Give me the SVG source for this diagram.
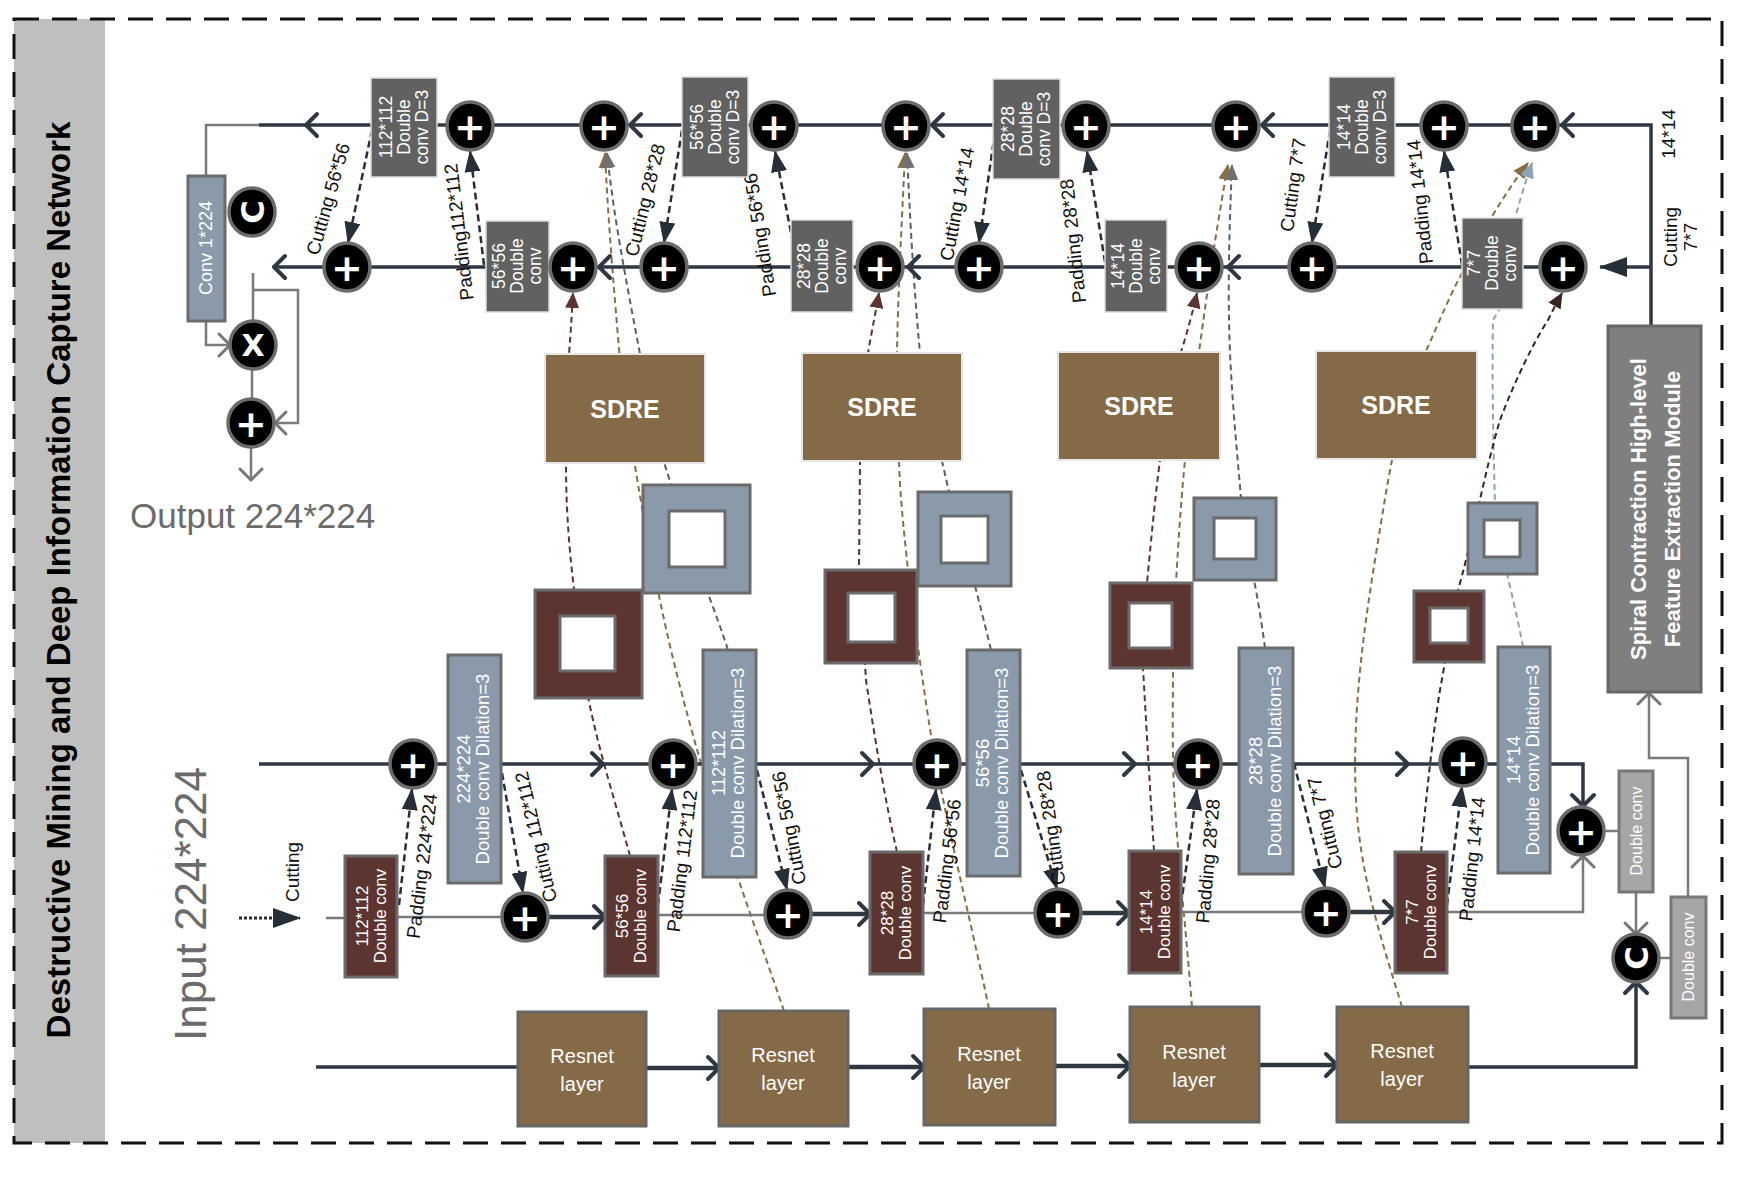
<svg xmlns="http://www.w3.org/2000/svg" width="1761" height="1178" viewBox="0 0 1761 1178">
<style>
text{font-family:"Liberation Sans",Arial,sans-serif}
.w{fill:#fff;text-anchor:middle}
.lab{fill:#111;font-size:19px;text-anchor:middle}
.op ellipse{fill:#000;stroke:#6b6b6b;stroke-width:3.5}
.op text{fill:#fff;font-family:"DejaVu Sans",sans-serif;font-weight:bold;text-anchor:middle}
.op .p{font-size:38px}
.bA rect{fill:#616161;stroke:#dcdcdc;stroke-width:1.5}
.bA text{font-size:17.5px}
.bl rect{fill:#8a9aab;stroke:#6b6b6b;stroke-width:3}
.bl text{font-size:18.5px}
.br rect{fill:#5c3530;stroke:#6b6b6b;stroke-width:3}
.br text{font-size:17px}
.sd rect{fill:#856a48;stroke:#e6e6e6;stroke-width:2}
.sd text{font-size:25px;font-weight:bold}
.rs rect{fill:#856a48;stroke:#666;stroke-width:3}
.rs text{font-size:20px}
.gy rect{fill:#a6a6a6;stroke:#777;stroke-width:3}
.gy text{font-size:16px}
.o1{fill:#5c3530;stroke:#6b6b6b;stroke-width:3}
.o2{fill:#8a9aab;stroke:#6b6b6b;stroke-width:3}
.in{fill:#fff;stroke:#6b6b6b;stroke-width:3}
.ln{fill:none;stroke:#2e3742;stroke-width:3.5}
.lg{fill:none;stroke:#7a7a7a;stroke-width:2.5}
.ch{fill:none;stroke:#2e3742;stroke-width:4;stroke-linecap:round;stroke-linejoin:round}
.chg{fill:none;stroke:#777;stroke-width:3;stroke-linecap:round;stroke-linejoin:round}
.dk{fill:none;stroke:#262e38;stroke-width:2.5;stroke-dasharray:7 4;marker-end:url(#aD)}
.cc{fill:none;stroke-width:2;stroke-dasharray:6 4}
.cb{stroke:#5c3330;marker-end:url(#aBr)}
.ct{stroke:#8b6d45;marker-end:url(#aTan)}
.cg{stroke:#5a6068;marker-end:url(#aGr)}
.cl{stroke:#8fa3b8;marker-end:url(#aBl)}
.cd{stroke:#3b2521;marker-end:url(#aDk)}
</style>
<defs>
<marker id="aD" markerUnits="userSpaceOnUse" markerWidth="22" markerHeight="16" viewBox="0 0 22 16" refX="21" refY="8" orient="auto"><path d="M0,0 L22,8 L0,16 z" fill="#262e38"/></marker>
<marker id="aI" markerUnits="userSpaceOnUse" markerWidth="28" markerHeight="20" viewBox="0 0 28 20" refX="27" refY="10" orient="auto"><path d="M0,0 L28,10 L0,20 z" fill="#262e38"/></marker>
<marker id="aBr" markerUnits="userSpaceOnUse" markerWidth="16" markerHeight="14" viewBox="0 0 16 14" refX="15" refY="7" orient="auto"><path d="M0,0 L16,7 L0,14 z" fill="#5c3330"/></marker>
<marker id="aTan" markerUnits="userSpaceOnUse" markerWidth="16" markerHeight="14" viewBox="0 0 16 14" refX="15" refY="7" orient="auto"><path d="M0,0 L16,7 L0,14 z" fill="#8b6d45"/></marker>
<marker id="aGr" markerUnits="userSpaceOnUse" markerWidth="16" markerHeight="14" viewBox="0 0 16 14" refX="15" refY="7" orient="auto"><path d="M0,0 L16,7 L0,14 z" fill="#707070"/></marker>
<marker id="aBl" markerUnits="userSpaceOnUse" markerWidth="16" markerHeight="14" viewBox="0 0 16 14" refX="15" refY="7" orient="auto"><path d="M0,0 L16,7 L0,14 z" fill="#8fa3b8"/></marker>
<marker id="aDk" markerUnits="userSpaceOnUse" markerWidth="16" markerHeight="14" viewBox="0 0 16 14" refX="15" refY="7" orient="auto"><path d="M0,0 L16,7 L0,14 z" fill="#3b2521"/></marker>
<path id="chv" d="M-11,-11 L0,0 L-11,11"/>
</defs>

<rect x="14" y="19" width="91" height="1124" fill="#bfbfbf"/>
<rect x="14" y="19" width="1708" height="1124" fill="none" stroke="#111" stroke-width="3" stroke-dasharray="25 13"/>
<text transform="translate(70,580) rotate(-90)" style="font-weight:bold;font-size:33px;text-anchor:middle;fill:#000">Destructive Mining and Deep Information Capture Network</text>

<g id="connectors">
<path class="cc cb" d="M630,856 C615,800 595,740 585,680 L574,589 C568,540 566,500 566,463 L569,354 C571,330 572,310 573,293"/>
<path class="cc ct" d="M784,1011 C760,940 730,860 700,760 C680,690 665,630 652,560 C640,500 630,440 620,360 C614,290 608,220 605,153"/>
<path class="cc cg" d="M728,650 C720,625 712,605 705,585 L672,488 C668,475 666,468 664,463 L640,354 C628,290 614,220 607,153"/>
<path class="cc cb" d="M897,852 C885,800 875,740 866,680 L859,570 L860,461 L868,353 C872,330 876,310 879,293"/>
<path class="cc ct" d="M989,1009 C975,940 955,860 935,760 C925,700 917,640 910,590 C905,540 900,500 899,461 L897,353 C898,290 902,220 905,153"/>
<path class="cc cg" d="M991,650 C985,625 980,605 975,586 L949,492 L942,461 L920,353 C914,290 910,220 907,153"/>
<path class="cc cb" d="M1154,851 C1150,790 1146,720 1143,668 L1147,583 C1152,530 1156,490 1160,460 L1181,352 C1188,330 1193,310 1197,293"/>
<path class="cc ct" d="M1192,1007 C1186,930 1178,860 1174,790 C1172,740 1173,700 1173,668 L1176,583 C1179,530 1182,490 1185,460 L1199,352 C1206,300 1216,230 1228,165"/>
<path class="cc cg" d="M1265,648 C1262,625 1258,600 1254,580 L1241,498 C1236,440 1230,380 1229,320 C1228,270 1230,210 1232,165"/>
<path class="cc ct" d="M1402,1007 C1385,950 1360,880 1356,800 C1352,720 1362,640 1375,560 C1383,510 1388,480 1392,460 L1426,351 C1440,320 1450,295 1460,277 L1491,218 C1505,195 1515,180 1528,163"/>
<path class="cc cl" d="M1523,647 C1518,620 1512,595 1507,574 L1495,503 C1493,440 1492,370 1493,320 L1499,310 L1515,218 C1520,200 1526,180 1532,163"/>
<path class="cc cd" d="M1421,852 C1426,800 1432,740 1440,690 L1458,590 C1470,550 1485,470 1500,420 C1515,380 1535,340 1548,320 C1553,310 1558,300 1562,293"/>

<path class="ln" d="M1651,325 V125 H259"/>
<path class="lg" d="M259,125 H206 V176"/>
<use href="#chv" class="ch" transform="translate(1562,125) rotate(180)"/>
<use href="#chv" class="ch" transform="translate(1262,125) rotate(180)"/>
<use href="#chv" class="ch" transform="translate(932,125) rotate(180)"/>
<use href="#chv" class="ch" transform="translate(630,125) rotate(180)"/>
<use href="#chv" class="ch" transform="translate(306,125) rotate(180)"/>
<path class="ln" d="M1651,267 H1600" marker-end="url(#aI)"/>
<path class="ln" d="M1586,267 H274"/>
<use href="#chv" class="ch" transform="translate(1228,267) rotate(180)"/>
<use href="#chv" class="ch" transform="translate(908,267) rotate(180)"/>
<use href="#chv" class="ch" transform="translate(599,267) rotate(180)"/>
<use href="#chv" class="ch" transform="translate(274,267) rotate(180)"/>
<path class="ln" d="M259,764 H1583 V806"/>
<use href="#chv" class="ch" transform="translate(603,764)"/>
<use href="#chv" class="ch" transform="translate(873,764)"/>
<use href="#chv" class="ch" transform="translate(1135,764)"/>
<use href="#chv" class="ch" transform="translate(1408,764)"/>
<use href="#chv" class="ch" transform="translate(1583,806) rotate(90)"/>
<path d="M239,918 H300" fill="none" stroke="#262e38" stroke-width="3" stroke-dasharray="3 2" marker-end="url(#aI)"/>
<path class="lg" d="M326,918 H345"/>
<path class="lg" d="M397,917 H502"/>
<path class="ln" d="M548,917 H605" style="stroke-width:4.5"/>
<path class="lg" d="M658,915 H765"/>
<path class="ln" d="M811,914 H870" style="stroke-width:4.5"/>
<path class="lg" d="M923,913 H1035"/>
<path class="ln" d="M1081,913 H1129" style="stroke-width:4.5"/>
<path class="lg" d="M1181,912 H1303"/>
<path class="ln" d="M1349,912 H1395" style="stroke-width:4.5"/>
<path class="lg" d="M1447,912 H1583 V856"/>
<use href="#chv" class="ch" transform="translate(605,917)"/>
<use href="#chv" class="ch" transform="translate(870,914)"/>
<use href="#chv" class="ch" transform="translate(1129,913)"/>
<use href="#chv" class="ch" transform="translate(1395,912)"/>
<use href="#chv" class="chg" transform="translate(1583,856) rotate(-90)"/>
<path class="lg" d="M1604,831 H1619"/>
<path class="lg" d="M1636,892 V934"/>
<use href="#chv" class="chg" transform="translate(1636,934) rotate(90)"/>
<path class="lg" d="M1659,958 H1671"/>
<path class="lg" d="M1688,897 V758 H1649 V693"/>
<use href="#chv" class="chg" transform="translate(1649,693) rotate(-90)"/>
<path class="ln" d="M1468,1067 H1636 V982"/>
<use href="#chv" class="ch" transform="translate(1636,982) rotate(-90)"/>
<path class="ln" d="M316,1067 H518"/>
<path class="ln" d="M646,1068 H719" style="stroke-width:4.5"/>
<path class="ln" d="M848,1067 H924" style="stroke-width:4.5"/>
<path class="ln" d="M1055,1066 H1130" style="stroke-width:4.5"/>
<path class="ln" d="M1259,1065 H1337" style="stroke-width:4.5"/>
<use href="#chv" class="ch" transform="translate(719,1068)"/>
<use href="#chv" class="ch" transform="translate(924,1067)"/>
<use href="#chv" class="ch" transform="translate(1130,1066)"/>
<use href="#chv" class="ch" transform="translate(1337,1065)"/>
<path class="lg" d="M206,321 V345 H230"/>
<use href="#chv" class="chg" transform="translate(230,345)"/>
<path class="lg" d="M253,273 V322"/>
<path class="lg" d="M253,290 H298 V423 H275"/>
<use href="#chv" class="chg" transform="translate(275,423) rotate(180)"/>
<path class="lg" d="M252,369 V399"/>
<path class="lg" d="M251,447 V480"/>
<use href="#chv" class="chg" transform="translate(251,480) rotate(90)"/>
<path class="dk" d="M372,130 L348,243"/>
<path class="dk" d="M484,265 L470,151"/>
<path class="dk" d="M682,130 L664,243"/>
<path class="dk" d="M793,243 L775,151"/>
<path class="dk" d="M995,132 L979,243"/>
<path class="dk" d="M1105,262 L1087,151"/>
<path class="dk" d="M1330,130 L1312,243"/>
<path class="dk" d="M1462,265 L1444,151"/>
<path class="dk" d="M399,905 L412,789"/>
<path class="dk" d="M502,773 L523,893"/>
<path class="dk" d="M658,905 L672,789"/>
<path class="dk" d="M757,770 L787,890"/>
<path class="dk" d="M923,905 L936,789"/>
<path class="dk" d="M1021,770 L1057,889"/>
<path class="dk" d="M1181,905 L1197,789"/>
<path class="dk" d="M1294,763 L1325,888"/>
<path class="dk" d="M1447,905 L1462,786"/>
</g>

<g id="labels">
<text class="lab" transform="translate(328,199) rotate(-74)" y="6.5">Cutting 56*56</text>
<text class="lab" transform="translate(459,232) rotate(-97)" y="6.5">Padding112*112</text>
<text class="lab" transform="translate(645,200) rotate(-76)" y="6.5">Cutting 28*28</text>
<text class="lab" transform="translate(760,235) rotate(-99)" y="6.5">Padding 56*56</text>
<text class="lab" transform="translate(957,204) rotate(-79)" y="6.5">Cutting 14*14</text>
<text class="lab" transform="translate(1073,241) rotate(-96)" y="6.5">Padding 28*28</text>
<text class="lab" transform="translate(1293,185) rotate(-82)" y="6.5">Cutting 7*7</text>
<text class="lab" transform="translate(1420,202) rotate(-96)" y="6.5">Padding 14*14</text>
<text class="lab" transform="translate(422,866) rotate(-83)" y="6.5">Padding 224*224</text>
<text class="lab" transform="translate(536,837) rotate(-103)" y="6.5">Cutting 112*112</text>
<text class="lab" transform="translate(682,861) rotate(-83)" y="6.5">Padding 112*112</text>
<text class="lab" transform="translate(789,828) rotate(-101)" y="6.5">Cutting 56*56</text>
<text class="lab" transform="translate(947,861) rotate(-83)" y="6.5">Padding 56*56</text>
<text class="lab" transform="translate(1051,828) rotate(-98)" y="6.5">Cutting 28*28</text>
<text class="lab" transform="translate(1208,861) rotate(-85)" y="6.5">Padding 28*28</text>
<text class="lab" transform="translate(1325,823) rotate(-104)" y="6.5">Cutting 7*7</text>
<text class="lab" transform="translate(1472,859) rotate(-84)" y="6.5">Padding 14*14</text>
<text class="lab" transform="translate(1675,134) rotate(-90)">14*14</text>
<text class="lab" transform="translate(1677,237) rotate(-90)">Cutting</text>
<text class="lab" transform="translate(1697,237) rotate(-90)">7*7</text>
<text class="lab" transform="translate(299,872) rotate(-90)">Cutting</text>
<text transform="translate(206,904) rotate(-90)" style="font-size:44px;fill:#6b6b6b;text-anchor:middle">Input 224*224</text>
<text x="130" y="528" style="font-size:35px;fill:#6b6b6b">Output 224*224</text>
</g>

<g id="sqBr1"><rect class="o1" x="535" y="590" width="107" height="108"/><rect class="in" x="560" y="616" width="55" height="55"/></g>
<g id="sqBl1"><rect class="o2" x="643" y="485" width="107" height="108"/><rect class="in" x="669" y="511" width="56" height="56"/></g>
<g id="sqBr2"><rect class="o1" x="825" y="570" width="92" height="93"/><rect class="in" x="848" y="593" width="47" height="49"/></g>
<g id="sqBl2"><rect class="o2" x="918" y="492" width="93" height="94"/><rect class="in" x="941" y="516" width="47" height="47"/></g>
<g id="sqBr3"><rect class="o1" x="1110" y="583" width="82" height="85"/><rect class="in" x="1129" y="603" width="43" height="45"/></g>
<g id="sqBl3"><rect class="o2" x="1194" y="498" width="82" height="82"/><rect class="in" x="1214" y="518" width="42" height="41"/></g>
<g id="sqBr4"><rect class="o1" x="1414" y="591" width="70" height="71"/><rect class="in" x="1430" y="608" width="38" height="35"/></g>
<g id="sqBl4"><rect class="o2" x="1468" y="503" width="69" height="71"/><rect class="in" x="1484" y="520" width="36" height="37"/></g>

<g id="sdre1" class="sd"><rect x="545" y="354" width="160" height="109"/><text class="w" x="625" y="418">SDRE</text></g>
<g id="sdre2" class="sd"><rect x="802" y="353" width="160" height="108"/><text class="w" x="882" y="416">SDRE</text></g>
<g id="sdre3" class="sd"><rect x="1058" y="352" width="162" height="108"/><text class="w" x="1139" y="415">SDRE</text></g>
<g id="sdre4" class="sd"><rect x="1316" y="351" width="161" height="108"/><text class="w" x="1396" y="414">SDRE</text></g>

<g id="boxA1" class="bA"><rect x="371" y="78" width="66" height="99"/><text class="w" transform="translate(404,127) rotate(-90)"><tspan x="0" y="-12">112*112</tspan><tspan x="0" y="6">Double</tspan><tspan x="0" y="24">conv D=3</tspan></text></g>
<g id="boxA2" class="bA"><rect x="682" y="77" width="66" height="100"/><text class="w" transform="translate(715,127) rotate(-90)"><tspan x="0" y="-12">56*56</tspan><tspan x="0" y="6">Double</tspan><tspan x="0" y="24">conv D=3</tspan></text></g>
<g id="boxA3" class="bA"><rect x="993" y="79" width="67" height="100"/><text class="w" transform="translate(1026,129) rotate(-90)"><tspan x="0" y="-12">28*28</tspan><tspan x="0" y="6">Double</tspan><tspan x="0" y="24">conv D=3</tspan></text></g>
<g id="boxA4" class="bA"><rect x="1329" y="77" width="66" height="100"/><text class="w" transform="translate(1362,127) rotate(-90)"><tspan x="0" y="-12">14*14</tspan><tspan x="0" y="6">Double</tspan><tspan x="0" y="24">conv D=3</tspan></text></g>
<g id="boxB1" class="bA"><rect x="486" y="221" width="63" height="91"/><text class="w" transform="translate(517,266) rotate(-90)"><tspan x="0" y="-12">56*56</tspan><tspan x="0" y="6">Double</tspan><tspan x="0" y="24">conv</tspan></text></g>
<g id="boxB2" class="bA"><rect x="791" y="220" width="62" height="92"/><text class="w" transform="translate(822,266) rotate(-90)"><tspan x="0" y="-12">28*28</tspan><tspan x="0" y="6">Double</tspan><tspan x="0" y="24">conv</tspan></text></g>
<g id="boxB3" class="bA"><rect x="1105" y="220" width="62" height="92"/><text class="w" transform="translate(1136,266) rotate(-90)"><tspan x="0" y="-12">14*14</tspan><tspan x="0" y="6">Double</tspan><tspan x="0" y="24">conv</tspan></text></g>
<g id="boxB4" class="bA"><rect x="1462" y="218" width="61" height="91"/><text class="w" transform="translate(1492,263) rotate(-90)"><tspan x="0" y="-12">7*7</tspan><tspan x="0" y="6">Double</tspan><tspan x="0" y="24">conv</tspan></text></g>
<g id="boxC1" class="bl"><rect x="448" y="655" width="53" height="228"/><text class="w" transform="translate(474,769) rotate(-90)"><tspan x="0" y="-4">224*224</tspan><tspan x="0" y="15">Double conv Dilation=3</tspan></text></g>
<g id="boxC2" class="bl"><rect x="703" y="650" width="53" height="227"/><text class="w" transform="translate(729,763) rotate(-90)"><tspan x="0" y="-4">112*112</tspan><tspan x="0" y="15">Double conv Dilation=3</tspan></text></g>
<g id="boxC3" class="bl"><rect x="967" y="650" width="53" height="226"/><text class="w" transform="translate(993,763) rotate(-90)"><tspan x="0" y="-4">56*56</tspan><tspan x="0" y="15">Double conv Dilation=3</tspan></text></g>
<g id="boxC4" class="bl"><rect x="1239" y="648" width="54" height="226"/><text class="w" transform="translate(1266,761) rotate(-90)"><tspan x="0" y="-4">28*28</tspan><tspan x="0" y="15">Double conv Dilation=3</tspan></text></g>
<g id="boxC5" class="bl"><rect x="1498" y="647" width="52" height="226"/><text class="w" transform="translate(1524,760) rotate(-90)"><tspan x="0" y="-4">14*14</tspan><tspan x="0" y="15">Double conv Dilation=3</tspan></text></g>
<g id="boxD1" class="br"><rect x="345" y="856" width="52" height="121"/><text class="w" transform="translate(371,916) rotate(-90)"><tspan x="0" y="-3">112*112</tspan><tspan x="0" y="15">Double conv</tspan></text></g>
<g id="boxD2" class="br"><rect x="605" y="856" width="53" height="120"/><text class="w" transform="translate(631,916) rotate(-90)"><tspan x="0" y="-3">56*56</tspan><tspan x="0" y="15">Double conv</tspan></text></g>
<g id="boxD3" class="br"><rect x="870" y="852" width="53" height="122"/><text class="w" transform="translate(896,913) rotate(-90)"><tspan x="0" y="-3">28*28</tspan><tspan x="0" y="15">Double conv</tspan></text></g>
<g id="boxD4" class="br"><rect x="1129" y="851" width="52" height="122"/><text class="w" transform="translate(1155,912) rotate(-90)"><tspan x="0" y="-3">14*14</tspan><tspan x="0" y="15">Double conv</tspan></text></g>
<g id="boxD5" class="br"><rect x="1395" y="852" width="52" height="121"/><text class="w" transform="translate(1421,912) rotate(-90)"><tspan x="0" y="-3">7*7</tspan><tspan x="0" y="15">Double conv</tspan></text></g>
<g id="res1" class="rs"><rect x="518" y="1012" width="128" height="114"/><text class="w" x="582" y="1063">Resnet</text><text class="w" x="582" y="1091">layer</text></g>
<g id="res2" class="rs"><rect x="719" y="1011" width="129" height="115"/><text class="w" x="783" y="1062">Resnet</text><text class="w" x="783" y="1090">layer</text></g>
<g id="res3" class="rs"><rect x="924" y="1009" width="131" height="116"/><text class="w" x="989" y="1061">Resnet</text><text class="w" x="989" y="1089">layer</text></g>
<g id="res4" class="rs"><rect x="1130" y="1007" width="129" height="115"/><text class="w" x="1194" y="1059">Resnet</text><text class="w" x="1194" y="1087">layer</text></g>
<g id="res5" class="rs"><rect x="1337" y="1007" width="131" height="115"/><text class="w" x="1402" y="1058">Resnet</text><text class="w" x="1402" y="1086">layer</text></g>
<g id="spiral"><rect x="1608" y="326" width="93" height="366" fill="#7f7f7f" stroke="#666" stroke-width="3"/><text class="w" transform="translate(1655,509) rotate(-90)" style="font-weight:bold;font-size:22px"><tspan x="0" y="-9">Spiral Contraction High-level</tspan><tspan x="0" y="25">Feature Extraction Module</tspan></text></g>
<g id="gdc1" class="gy"><rect x="1619" y="771" width="34" height="121"/><text class="w" transform="translate(1636,831) rotate(-90)" y="5.6">Double conv</text></g>
<g id="gdc2" class="gy"><rect x="1671" y="897" width="35" height="121"/><text class="w" transform="translate(1688,957) rotate(-90)" y="5.6">Double conv</text></g>
<g id="conv1"><rect x="188" y="176" width="37" height="145" fill="#8a9aab" stroke="#6b6b6b" stroke-width="3"/><text class="w" transform="translate(206,248) rotate(-90)" y="6.3" style="font-size:18px">Conv 1*224</text></g>

<g id="pA1" class="op"><ellipse cx="470" cy="126" rx="23" ry="24"/><text class="p" x="470" y="139.6">+</text></g>
<g id="pA2" class="op"><ellipse cx="604" cy="126" rx="23" ry="24"/><text class="p" x="604" y="139.6">+</text></g>
<g id="pA3" class="op"><ellipse cx="774" cy="126" rx="23" ry="24"/><text class="p" x="774" y="139.6">+</text></g>
<g id="pA4" class="op"><ellipse cx="906" cy="126" rx="23" ry="24"/><text class="p" x="906" y="139.6">+</text></g>
<g id="pA5" class="op"><ellipse cx="1086" cy="126" rx="23" ry="24"/><text class="p" x="1086" y="139.6">+</text></g>
<g id="pA6" class="op"><ellipse cx="1236" cy="126" rx="23" ry="24"/><text class="p" x="1236" y="139.6">+</text></g>
<g id="pA7" class="op"><ellipse cx="1444" cy="126" rx="23" ry="24"/><text class="p" x="1444" y="139.6">+</text></g>
<g id="pA8" class="op"><ellipse cx="1535" cy="126" rx="23" ry="24"/><text class="p" x="1535" y="139.6">+</text></g>
<g id="pB1" class="op"><ellipse cx="347" cy="267" rx="23" ry="24"/><text class="p" x="347" y="280.6">+</text></g>
<g id="pB2" class="op"><ellipse cx="573" cy="267" rx="23" ry="24"/><text class="p" x="573" y="280.6">+</text></g>
<g id="pB3" class="op"><ellipse cx="664" cy="267" rx="23" ry="24"/><text class="p" x="664" y="280.6">+</text></g>
<g id="pB4" class="op"><ellipse cx="880" cy="267" rx="23" ry="24"/><text class="p" x="880" y="280.6">+</text></g>
<g id="pB5" class="op"><ellipse cx="979" cy="267" rx="23" ry="24"/><text class="p" x="979" y="280.6">+</text></g>
<g id="pB6" class="op"><ellipse cx="1199" cy="267" rx="23" ry="24"/><text class="p" x="1199" y="280.6">+</text></g>
<g id="pB7" class="op"><ellipse cx="1312" cy="267" rx="23" ry="24"/><text class="p" x="1312" y="280.6">+</text></g>
<g id="pB8" class="op"><ellipse cx="1563" cy="267" rx="23" ry="24"/><text class="p" x="1563" y="280.6">+</text></g>
<g id="pC1" class="op"><ellipse cx="413" cy="764" rx="23" ry="24"/><text class="p" x="413" y="777.6">+</text></g>
<g id="pC2" class="op"><ellipse cx="673" cy="764" rx="23" ry="24"/><text class="p" x="673" y="777.6">+</text></g>
<g id="pC3" class="op"><ellipse cx="937" cy="764" rx="23" ry="24"/><text class="p" x="937" y="777.6">+</text></g>
<g id="pC4" class="op"><ellipse cx="1198" cy="764" rx="23" ry="24"/><text class="p" x="1198" y="777.6">+</text></g>
<g id="pC5" class="op"><ellipse cx="1463" cy="762" rx="23" ry="24"/><text class="p" x="1463" y="775.6">+</text></g>
<g id="pD1" class="op"><ellipse cx="525" cy="917" rx="23" ry="24"/><text class="p" x="525" y="930.6">+</text></g>
<g id="pD2" class="op"><ellipse cx="788" cy="914" rx="23" ry="24"/><text class="p" x="788" y="927.6">+</text></g>
<g id="pD3" class="op"><ellipse cx="1058" cy="913" rx="23" ry="24"/><text class="p" x="1058" y="926.6">+</text></g>
<g id="pD4" class="op"><ellipse cx="1326" cy="912" rx="23" ry="24"/><text class="p" x="1326" y="925.6">+</text></g>
<g id="pF" class="op"><ellipse cx="1581" cy="831" rx="23" ry="24"/><text class="p" x="1581" y="844.6">+</text></g>
<g id="cR" class="op"><ellipse cx="1636" cy="958" rx="23" ry="24"/><text transform="translate(1636,958) rotate(-90)" y="11.5" style="font-size:32px">C</text></g>
<g id="cL" class="op"><ellipse cx="252" cy="212" rx="23" ry="24"/><text transform="translate(252,212) rotate(-90)" y="11.5" style="font-size:32px">C</text></g>
<g id="xM" class="op"><ellipse cx="253" cy="345" rx="23" ry="24"/><text x="253" y="356" style="font-size:30px">X</text></g>
<g id="pO" class="op"><ellipse cx="251" cy="423" rx="23" ry="24"/><text class="p" x="251" y="436.6">+</text></g>
</svg>
